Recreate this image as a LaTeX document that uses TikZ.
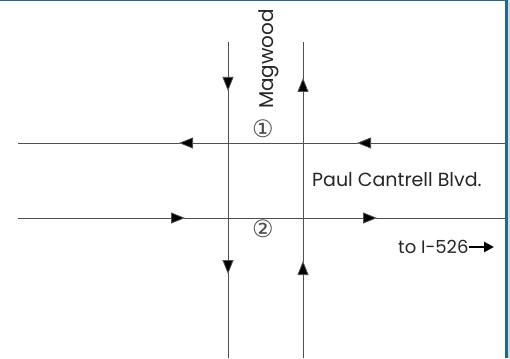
\documentclass[tikz,border=0pt]{standalone}
\usepackage{fontspec}
\setmainfont{Poppins}
\newfontfamily\symfont{DejaVu Sans}
\usetikzlibrary{arrows.meta}
\definecolor{frameblue}{HTML}{1A6A9A}
\definecolor{roadgray}{HTML}{505050}
\tikzset{
  road/.style={draw=roadgray, line width=0.8pt},
  flow/.style={road, -{Triangle[length=14pt,width=11pt,fill=black]}, shorten >=-1pt},
  lbl/.style={inner sep=0pt, text=black!85},
  circnum/.style={lbl, text=black!70, font=\symfont\fontsize{24}{24}\selectfont},
}
\begin{document}
\begin{tikzpicture}[x=1pt,y=-1pt]
\useasboundingbox (0,0) rectangle (510,358);
\fill[white] (0,0) rectangle (510,358);
% frame
\fill[black!15] (507.5,0) rectangle (510,358);
\fill[frameblue] (505,0) rectangle (507.5,358);
\fill[frameblue] (0,0) rectangle (505,1.5);
% coordinates
\coordinate (tW) at (18,143);
\coordinate (tE) at (505,143);
\coordinate (tA1) at (180,143);
\coordinate (tA2) at (358,143);
\coordinate (bW) at (18,218);
\coordinate (bE) at (505,218);
\coordinate (bA1) at (184,218);
\coordinate (bA2) at (376,218);
\coordinate (lN) at (228,42);
\coordinate (lS) at (228,358);
\coordinate (lA1) at (228,90);
\coordinate (lA2) at (228,273);
\coordinate (rN) at (303,42);
\coordinate (rS) at (303,358);
\coordinate (rA1) at (303,79);
\coordinate (rA2) at (303,262);
% westbound
\draw[flow] (tE) -- (tA2);
\draw[flow] (tA2) -- (tA1);
\draw[road] (tA1) -- (tW);
% eastbound
\draw[flow] (bW) -- (bA1);
\draw[flow] (bA1) -- (bA2);
\draw[road] (bA2) -- (bE);
% southbound
\draw[flow] (lN) -- (lA1);
\draw[flow] (lA1) -- (lA2);
\draw[road] (lA2) -- (lS);
% northbound
\draw[flow] (rS) -- (rA2);
\draw[flow] (rA2) -- (rA1);
\draw[road] (rA1) -- (rN);
% labels
\node[circnum] (c1) at (263,129) {①};
\node[circnum] (c2) at (263,229) {②};
\node[lbl, rotate=90, font=\fontsize{20}{20}\selectfont] (mag) at (269,59) {Magwood};
\node[lbl, anchor=west, font=\fontsize{19}{19}\selectfont] (pc) at (312,180) {Paul Cantrell Blvd.};
\node[lbl, anchor=west, font=\fontsize{18}{18}\selectfont] (to) at (398,247) {to I-526};
\coordinate (toE) at (494,247);
\draw[line width=2.5pt, -{Triangle[length=10pt,width=10pt]}] (to.east) -- (toE);
\end{tikzpicture}
\end{document}
